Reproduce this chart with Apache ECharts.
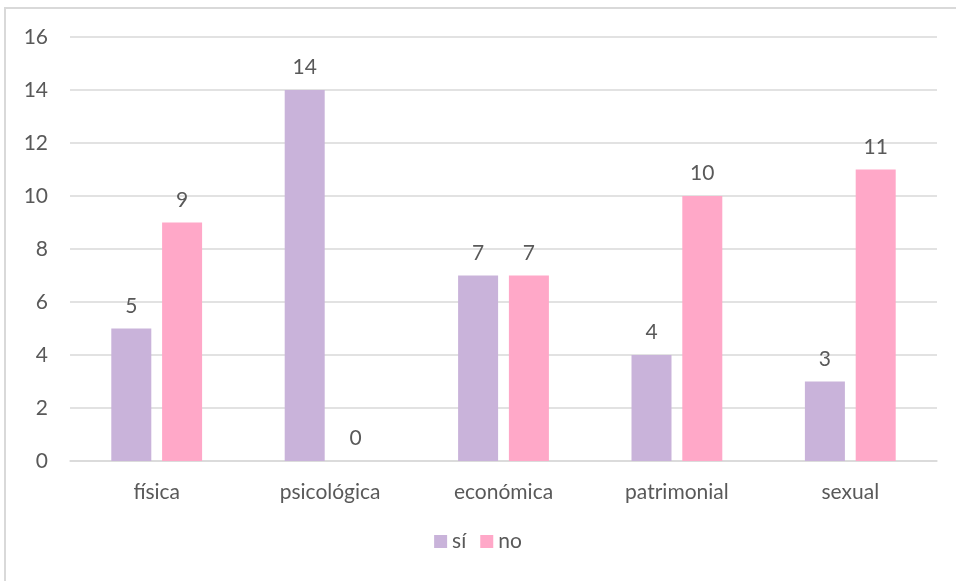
<!DOCTYPE html>
<html><head><meta charset="utf-8">
<script src="https://cdn.jsdelivr.net/npm/echarts@6/dist/echarts.min.js"></script>
<style>html,body{margin:0;padding:0;background:#fff}#c{width:956px;height:581px}</style>
</head><body><div id="c"></div>
<script>
const categories = ['física', 'psicológica', 'económica', 'patrimonial', 'sexual'];
const siValues = [5, 14, 7, 4, 3];
const noValues = [9, 0, 7, 10, 11];
const yTicks = { min: 0, max: 16, interval: 2 };

const font = 'Lato, "Open Sans", sans-serif';
const fs = 21;
const chart = echarts.init(document.getElementById('c'));
chart.setOption({
  animation: false,
  textStyle: { fontFamily: font },
  graphic: [{
    type: 'rect', shape: { x: 5, y: 8, width: 1000, height: 700 },
    style: { fill: 'none', stroke: '#D9D9D9', lineWidth: 2 }, silent: true
  }],
  grid: { left: 70, right: 19, top: 37, bottom: 120 },
  legend: {
    bottom: 24, left: 'center', itemWidth: 13, itemHeight: 13, itemGap: 14,
    icon: 'rect',
    textStyle: { color: '#595959', fontSize: fs, fontFamily: font },
    data: ['sí', 'no']
  },
  xAxis: {
    type: 'category', data: categories,
    axisLine: { lineStyle: { color: '#D9D9D9', width: 1.5 } },
    axisTick: { show: false },
    axisLabel: { color: '#595959', fontSize: fs, margin: 21, fontFamily: font }
  },
  yAxis: {
    type: 'value', min: yTicks.min, max: yTicks.max, interval: yTicks.interval,
    axisLine: { show: false }, axisTick: { show: false },
    splitLine: { lineStyle: { color: '#D9D9D9', width: 1.5 } },
    axisLabel: { color: '#595959', fontSize: fs, margin: 22, fontFamily: font }
  },
  series: [
    {
      name: 'sí', type: 'bar', data: siValues, barWidth: 40, barGap: '27%',
      itemStyle: { color: '#C9B3DA' },
      label: { show: true, position: 'top', distance: 12, color: '#595959', fontSize: fs, fontFamily: font }
    },
    {
      name: 'no', type: 'bar', data: noValues, barWidth: 40,
      itemStyle: { color: '#FFA8C8' },
      label: { show: true, position: 'top', distance: 12, color: '#595959', fontSize: fs, fontFamily: font }
    }
  ]
});
</script></body></html>
